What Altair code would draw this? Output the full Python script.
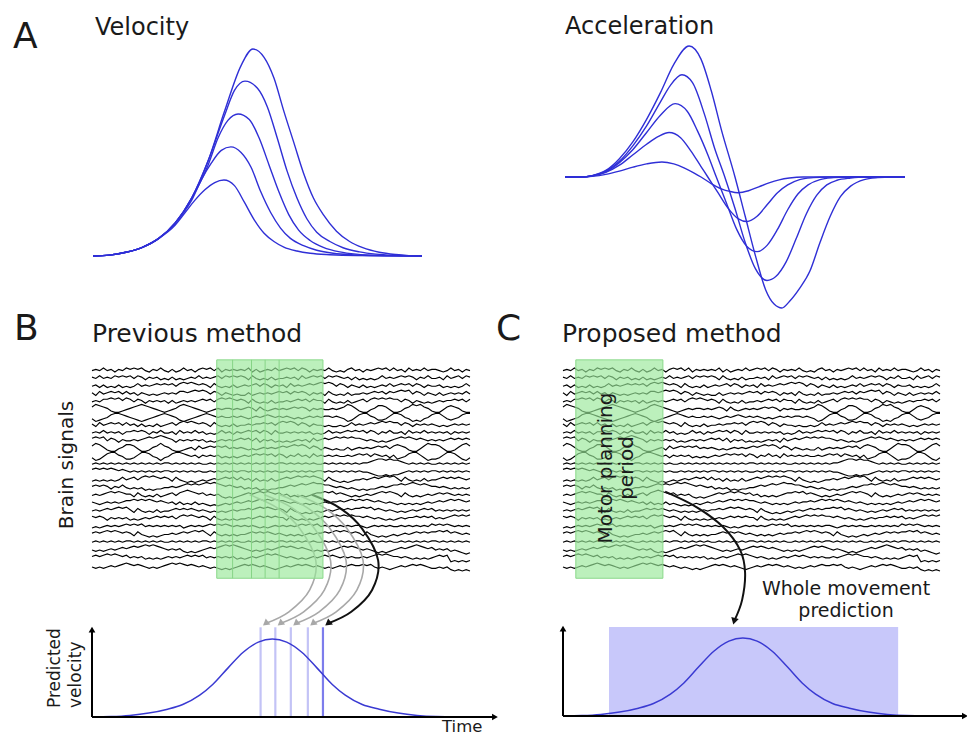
import altair as alt
import pandas as pd

# ---------------- data ----------------
# Panel A, velocity profiles: time (% of movement window) and normalised speed
vel_times = [
    [0, 5, 10, 15, 20, 25, 30, 35, 40, 45, 48.6, 52, 55, 58, 61, 64, 67, 70, 74, 78, 82, 87, 92, 96, 100],
    [0, 5, 10, 15, 20, 25, 30, 35, 40, 43, 46.2, 50, 53, 56, 59, 62, 65, 68, 72, 76, 81, 86, 92, 100],
    [0, 5, 10, 15, 20, 25, 30, 35, 38, 41, 44.1, 47.5, 50.5, 53.5, 56.5, 59.5, 62.5, 66, 70, 75, 80, 87, 100],
    [0, 5, 10, 15, 20, 25, 30, 33, 36, 39, 41.9, 45, 48, 51, 54, 57, 60, 64, 68, 73, 80, 88, 100],
    [0, 5, 10, 15, 20, 25, 28, 31, 34, 37, 39.8, 43, 46, 49, 52, 55, 58, 62, 66, 72, 80, 100],
]
vel_values = [
    [0, .004, .018, .042, .085, .16, .28, .46, .70, .92, 1.0, .96, .86, .70, .55, .40, .28, .20, .12, .07, .04, .018, .007, .002, 0],
    [0, .004, .018, .042, .085, .16, .28, .46, .68, .80, .845, .81, .72, .57, .41, .28, .18, .115, .07, .04, .02, .009, .003, 0],
    [0, .004, .018, .042, .085, .16, .28, .44, .57, .655, .686, .66, .57, .44, .31, .20, .125, .075, .042, .02, .009, .003, 0],
    [0, .004, .018, .042, .085, .16, .27, .37, .45, .51, .527, .50, .43, .31, .21, .135, .085, .05, .028, .013, .005, .001, 0],
    [0, .004, .018, .042, .085, .15, .21, .27, .32, .355, .367, .34, .26, .175, .11, .07, .043, .024, .013, .006, .002, 0],
]

# Panel A, acceleration profiles
acc_times = [
    [0, 5, 8, 12, 16, 20, 24, 28, 32, 36.5, 40, 43, 46, 50, 53, 56, 59, 61.5, 63.8, 66, 69, 72, 75, 78, 81, 84, 88, 92, 96, 100],
    [0, 5, 8, 12, 16, 20, 24, 28, 31, 34.4, 37.5, 41, 44, 47, 50, 53, 56, 59.4, 62, 65, 68, 71, 74, 77, 80, 84, 88, 100],
    [0, 5, 8, 12, 16, 20, 24, 28, 32.4, 36, 39, 42, 44.5, 47.5, 50.5, 53.5, 56.5, 59.5, 62.5, 65.5, 68.5, 71.5, 75, 79, 83, 100],
    [0, 5, 8, 12, 16, 20, 24, 27.5, 30.6, 34, 37, 40, 42, 45, 48, 51, 53.5, 56.5, 59.5, 62.5, 65.5, 69, 73, 77, 100],
    [0, 5, 8, 12, 16, 20, 24, 28.5, 32, 35, 38, 40, 43, 46, 48.5, 50.9, 54, 57, 60, 63, 66, 70, 100],
]
acc_values = [
    [0, 0, .01, .05, .14, .27, .44, .64, .86, 1.0, .9, .66, .36, 0, -.3, -.6, -.86, -.97, -1.0, -.95, -.85, -.72, -.5, -.3, -.15, -.07, -.02, -.005, 0, 0],
    [0, 0, .01, .045, .12, .24, .39, .57, .7, .78, .72, .48, .22, 0, -.24, -.5, -.7, -.79, -.76, -.65, -.47, -.28, -.14, -.06, -.025, -.008, 0, 0],
    [0, 0, .01, .04, .11, .21, .34, .47, .56, .5, .35, .17, 0, -.2, -.4, -.53, -.57, -.52, -.4, -.25, -.13, -.06, -.02, -.005, 0, 0],
    [0, 0, .008, .035, .09, .17, .25, .31, .34, .3, .2, .08, 0, -.12, -.24, -.32, -.34, -.3, -.21, -.12, -.06, -.02, -.005, 0, 0],
    [0, 0, .005, .02, .045, .075, .1, .115, .1, .07, .03, 0, -.05, -.09, -.11, -.12, -.105, -.075, -.045, -.022, -.008, 0, 0],
]

# Brain signals: one digit string per channel (read as deflection levels 0-9)
signal_traces = [
    "4546453546 5656435464 3534645356 5646354545 4635345464 5656465354 5464343564 5354565646 4536454645 5434645354",
    "5464546565 6465354534 3534345464 5456465656 5364343534 4545364565 6465654535 3434346454 5656535464 4536456465",
    "4535343534 3464545656 5646767656 5364343534 5456465354 5364545656 7676465354 3534345464 5656465354 4534343464",
    "5364565646 4535434345 4546656767 6465354343 3534545456 5646565354 5364343534 4545656465 6767465354 3534545464",
    "4546676757 6465354545 3534545456 5646767656 5364343534 4545656465 5364343534 5646767676 6465354343 4545565646",
    "6876532234 5678765432 3457876543 23" "4545545456 5364345454 5656535454 4545" "6875322457 7642235687 8653224676 5322",
    "3123467765 4321234567 6542123456 76" "5454454543 4545654545 4343454545 5454" "3124677542 2357764312 1346775323 4677",
    "5364565646 4535343534 5646767656 5364343534 4545565646 7676465354 4343343464 5456567676 6465354545 4343454545",
    "4546454535 5656535464 4536454645 3434645354 5656465364 4545454534 3464545656 5646535464 4536454645 4545354545",
    "6767465354 4545676787 6535454545 3434545456 5646354534 3434545364 5656767676 6545434345 6767656545 4545656565",
    "6875322457 7642235686 532234" "5364565656 4545434345 4545656767 6465354343 3534545456 5646" "7653224687 7642235786",
    "3124677542 2357764313 467765" "4535454534 3434545656 5646535464 5364545454 4545656465 4535" "2346775312 2357764213",
    "4545454545 4545454545 5454545454 4545454545 4545454545 5454545454 4545454545 4556788787 7654545454 4545454545",
    "6767676565 4545454545 5454545454 4545454545 5454545454 4545454545 5454545454 5443211212 2345454545 5454545454",
    "3434343464 5646767656 5364323234 3454565646 4535343534 5656767676 5364323234 4545656767 5364343534 4565656545",
    "5656535464 3434232334 4545676767 8787656545 3434232334 4565676787 7665454343 2323345456 6767876765 5454343434",
    "4545676765 5364343534 5646787656 4545323234 5656767656 4534343456 6767565434 3454567676 5364343454 5656545454",
    "5434545456 6767676565 4535343534 3232343454 5656767676 6545434343 4545565676 7676565454 3434343454 5656767656",
    "4545656767 5364343534 4565656545 4343434545 5656767656 5364323234 3454565656 6767565454 3434545656 4545454545",
    "6565354545 3434545656 5646767656 5364343434 4545656565 5364343434 5656767676 6565454343 4545565656 4545676767",
    "3434545456 5656454545 4545345454 5656565454 5454343454 5454565656 4545454545 5434545454 4545454546 5656545454",
    "5656767656 5364323234 4545656767 5364343434 4565656545 4343434545 5656767656 5364323234 3454565656 6767565454",
    "4545454545 5454545454 4545454545 5454545454 4545454545 5454545454 4545454545 5454545454 4545454545 5454545454",
    "4343454565 6767878765 4545323234 5656787876 5434345456 7676565434 3434567676 5454323234 5656787656 4545343212",
    "5656767656 4545343434 5454565656 4545454534 3454567676 5454343454 5656545454 4545676765 5454343434 5656121212",
    "3232343456 5454323234 5656545434 3232121234 5454343212 3434545434 3232343454 4545323212 3434545432 2323101010",
]

# Predicted velocity profile (same time axis as the brain signals)
pred_t = [0, 5, 10, 15, 20, 24, 28.5, 32, 36, 40, 44, 47.7, 51.5, 55.5, 59.5, 63.5, 67, 71.5, 76, 81, 86, 91, 97]
pred_v = [0, .005, .02, .05, .1, .16, .28, .42, .63, .83, .96, 1.0, .96, .83, .63, .42, .28, .16, .1, .05, .02, .005, 0]

# Sliding decoding windows of the previous method (time units)
window_start = [33.0, 37.2, 42.2, 45.8, 49.5]
window_end = [44.6, 48.5, 52.6, 57.1, 61.1]
window_rows = [-1.3, 26.7]          # channels covered by the shaded windows
marker_top = 1.15                   # height of the prediction markers

# Proposed method: planning window and whole-movement prediction span
planning_span = [3.4, 26.5]
whole_span = [12.2, 88.9]
whole_top = 1.14

# Curved arrow from decoding window to prediction (time, channel-row)
arrowB_t = [58.2, 65.6, 71.4, 75.7, 74.1, 68.6, 62.4]
arrowB_row = [16.0, 17.7, 20.3, 24.4, 28.2, 31.0, 32.5]
arrowC_t = [27.1, 35.5, 42.4, 47.0, 48.3, 47.5, 45.4]
arrowC_row = [15.6, 17.6, 20.1, 23.1, 26.0, 29.5, 32.2]

axis_time_end = 106.6
axis_vel_top = 1.12

# ---------------- style ----------------
BLUE = "#2f2fd6"
INK = "#1a1a1a"
FONT = "DejaVu Sans"


def scales(xdom, xrng, ydom, yrng):
    def X(field):
        return alt.X(field, type="quantitative", axis=None,
                     scale=alt.Scale(domain=xdom, range=xrng, nice=False, zero=False))

    def Y(field):
        return alt.Y(field, type="quantitative", axis=None,
                     scale=alt.Scale(domain=ydom, range=yrng, nice=False, zero=False))
    return X, Y


def curves_df(times, values):
    rows = []
    for c, (ts, vs) in enumerate(zip(times, values)):
        for t, v in zip(ts, vs):
            rows.append({"curve": c, "t": t, "v": v})
    return pd.DataFrame(rows)


def signals_df():
    rows = []
    for r, s in enumerate(signal_traces):
        d = s.replace(" ", "")
        n = len(d)
        for i, ch in enumerate(d):
            rows.append({"row": r, "t": i * 100.0 / (n - 1), "y": r - (int(ch) - 4.5) * 0.17})
    return pd.DataFrame(rows)


def path_df(ts, rs, offsets):
    rows = []
    for a, off in enumerate(offsets):
        for k, (t, r) in enumerate(zip(ts, rs)):
            rows.append({"arrow": a, "k": k, "t": t + off, "r": r})
    return pd.DataFrame(rows)


def label(text, x, y, size, angle=0, align="left", lh=None):
    kw = dict(font=FONT, fontSize=size, color=INK, align=align, baseline="alphabetic")
    if angle:
        kw["angle"] = angle
    if lh:
        kw["lineHeight"] = lh
    return alt.Chart(pd.DataFrame({"a": [0]})).mark_text(**kw).encode(
        x=alt.value(x), y=alt.value(y), text=alt.value(text))


layers = []
sig = signals_df()
pred = pd.DataFrame({"t": pred_t, "v": pred_v})

# ---------- Panel A ----------
Xv, Yv = scales([0, 100], [93, 422], [0, 1], [256, 49])
layers.append(alt.Chart(curves_df(vel_times, vel_values)).mark_line(
    color=BLUE, strokeWidth=1.4, interpolate="monotone").encode(
    x=Xv("t"), y=Yv("v"), detail="curve:N"))

Xa, Ya = scales([0, 100], [565, 905], [0, 1], [177, 46])
layers.append(alt.Chart(curves_df(acc_times, acc_values)).mark_line(
    color=BLUE, strokeWidth=1.4, interpolate="monotone").encode(
    x=Xa("t"), y=Ya("v"), detail="curve:N"))


def method_panel(x0, x1, base, with_windows):
    out = []
    Xs, Ys = scales([0, 100], [x0, x1], [0, 25], [370, 565])
    Xl, Yl = scales([0, 100], [x0, x1], [0, 1], [base, base - 78])
    out.append(alt.Chart(sig).mark_line(color="#000000", strokeWidth=1.15).encode(
        x=Xs("t"), y=Ys("y"), detail="row:N"))
    if with_windows:
        offs = [e - window_end[-1] for e in window_end]
        grey = path_df(arrowB_t, arrowB_row, offs[:-1])
        out.append(alt.Chart(grey).mark_line(color="#a8a8a8", strokeWidth=1.6, interpolate="cardinal").encode(
            x=Xs("t"), y=Ys("r"), detail="arrow:N", order=alt.Order("k:Q")))
        black = path_df(arrowB_t, arrowB_row, [0])
        out.append(alt.Chart(black).mark_line(color="#111111", strokeWidth=2, interpolate="cardinal").encode(
            x=Xs("t"), y=Ys("r"), detail="arrow:N", order=alt.Order("k:Q")))
        green = pd.DataFrame({"t0": [min(window_start)], "t1": [max(window_end)],
                              "r0": [window_rows[0]], "r1": [window_rows[1]]})
        out.append(alt.Chart(green).mark_rect(fill="#9ae89a", fillOpacity=0.66, stroke="#8ad88a",
                                              strokeWidth=1).encode(
            x=Xs("t0"), x2=alt.X2("t1"), y=Ys("r0"), y2=alt.Y2("r1")))
        edges = pd.DataFrame({"t": window_start[1:], "r0": window_rows[0], "r1": window_rows[1]})
        out.append(alt.Chart(edges).mark_rule(color="#86d486", strokeWidth=1).encode(
            x=Xs("t"), y=Ys("r0"), y2=alt.Y2("r1")))
        heads = pd.DataFrame({"t": [arrowB_t[-1] + o for o in offs[:-1]], "r": arrowB_row[-1]})
        out.append(alt.Chart(heads).mark_point(shape="triangle-down", filled=True, size=55, angle=52,
                                               color="#a8a8a8", opacity=1).encode(x=Xs("t"), y=Ys("r")))
        out.append(alt.Chart(pd.DataFrame({"t": [arrowB_t[-1]], "r": [arrowB_row[-1]]})).mark_point(
            shape="triangle-down", filled=True, size=60, angle=52, color="#111111", opacity=1).encode(
            x=Xs("t"), y=Ys("r")))
        marks = pd.DataFrame({"t": window_end, "y0": 0.0, "y1": marker_top})
        out.append(alt.Chart(marks.iloc[:-1]).mark_rule(color="#c3c3f6", strokeWidth=2.2).encode(
            x=Xl("t"), y=Yl("y0"), y2=alt.Y2("y1")))
        out.append(alt.Chart(marks.iloc[-1:]).mark_rule(color="#7d7dec", strokeWidth=2.2).encode(
            x=Xl("t"), y=Yl("y0"), y2=alt.Y2("y1")))
    else:
        green = pd.DataFrame({"t0": [planning_span[0]], "t1": [planning_span[1]],
                              "r0": [window_rows[0]], "r1": [window_rows[1]]})
        out.append(alt.Chart(green).mark_rect(fill="#9ae89a", fillOpacity=0.66, stroke="#8ad88a",
                                              strokeWidth=1).encode(
            x=Xs("t0"), x2=alt.X2("t1"), y=Ys("r0"), y2=alt.Y2("r1")))
        black = path_df(arrowC_t, arrowC_row, [0])
        out.append(alt.Chart(black).mark_line(color="#111111", strokeWidth=2, interpolate="cardinal").encode(
            x=Xs("t"), y=Ys("r"), detail="arrow:N", order=alt.Order("k:Q")))
        out.append(alt.Chart(pd.DataFrame({"t": [arrowC_t[-1]], "r": [arrowC_row[-1]]})).mark_point(
            shape="triangle-down", filled=True, size=60, angle=15, color="#111111", opacity=1).encode(
            x=Xs("t"), y=Ys("r")))
        span = pd.DataFrame({"t0": [whole_span[0]], "t1": [whole_span[1]], "y0": [0.0], "y1": [whole_top]})
        out.append(alt.Chart(span).mark_rect(fill="#c8c8fa").encode(
            x=Xl("t0"), x2=alt.X2("t1"), y=Yl("y0"), y2=alt.Y2("y1")))
    out.append(alt.Chart(pred).mark_line(color="#3a3ad2", strokeWidth=1.5, interpolate="monotone").encode(
        x=Xl("t"), y=Yl("v")))
    ax = pd.DataFrame({"t0": [0.0, 0.0], "t1": [0.0, axis_time_end], "v0": [0.0, 0.0], "v1": [axis_vel_top, 0.0]})
    out.append(alt.Chart(ax).mark_rule(color="#000000", strokeWidth=2).encode(
        x=Xl("t0"), x2=alt.X2("t1"), y=Yl("v0"), y2=alt.Y2("v1")))
    out.append(alt.Chart(pd.DataFrame({"t": [0.0], "v": [axis_vel_top]})).mark_point(
        shape="triangle-up", filled=True, size=45, color="#000000", opacity=1).encode(x=Xl("t"), y=Yl("v")))
    out.append(alt.Chart(pd.DataFrame({"t": [axis_time_end], "v": [0.0]})).mark_point(
        shape="triangle-right", filled=True, size=45, color="#000000", opacity=1).encode(x=Xl("t"), y=Yl("v")))
    return out


layers += method_panel(92, 470, 717, True)
layers += method_panel(563, 940, 716, False)

# ---------- texts ----------
layers += [
    label("A", 13, 48, 36),
    label("Velocity", 95, 35, 24),
    label("Acceleration", 565, 34, 24),
    label("B", 14, 340, 36),
    label("Previous method", 92, 342, 25),
    label("C", 496, 340, 36),
    label("Proposed method", 562, 342, 25),
    label("Brain signals", 73, 465, 20, angle=270, align="center"),
    label(["Predicted", "velocity"], 60, 708, 17, angle=270, align="left", lh=21),
    label("Time", 442, 731.5, 16.5),
    label(["Motor planning", "period"], 612, 468, 20, angle=270, align="center", lh=21),
    label(["Whole movement", "prediction"], 846, 595, 19, align="center", lh=22),
]

chart = alt.layer(*layers).resolve_scale(x="independent", y="independent").properties(
    width=967, height=734, padding=0, autosize=alt.AutoSizeParams(type="none")
).configure_view(stroke=None)

chart.save("out.html", embed_options={"renderer": "svg", "actions": False})
